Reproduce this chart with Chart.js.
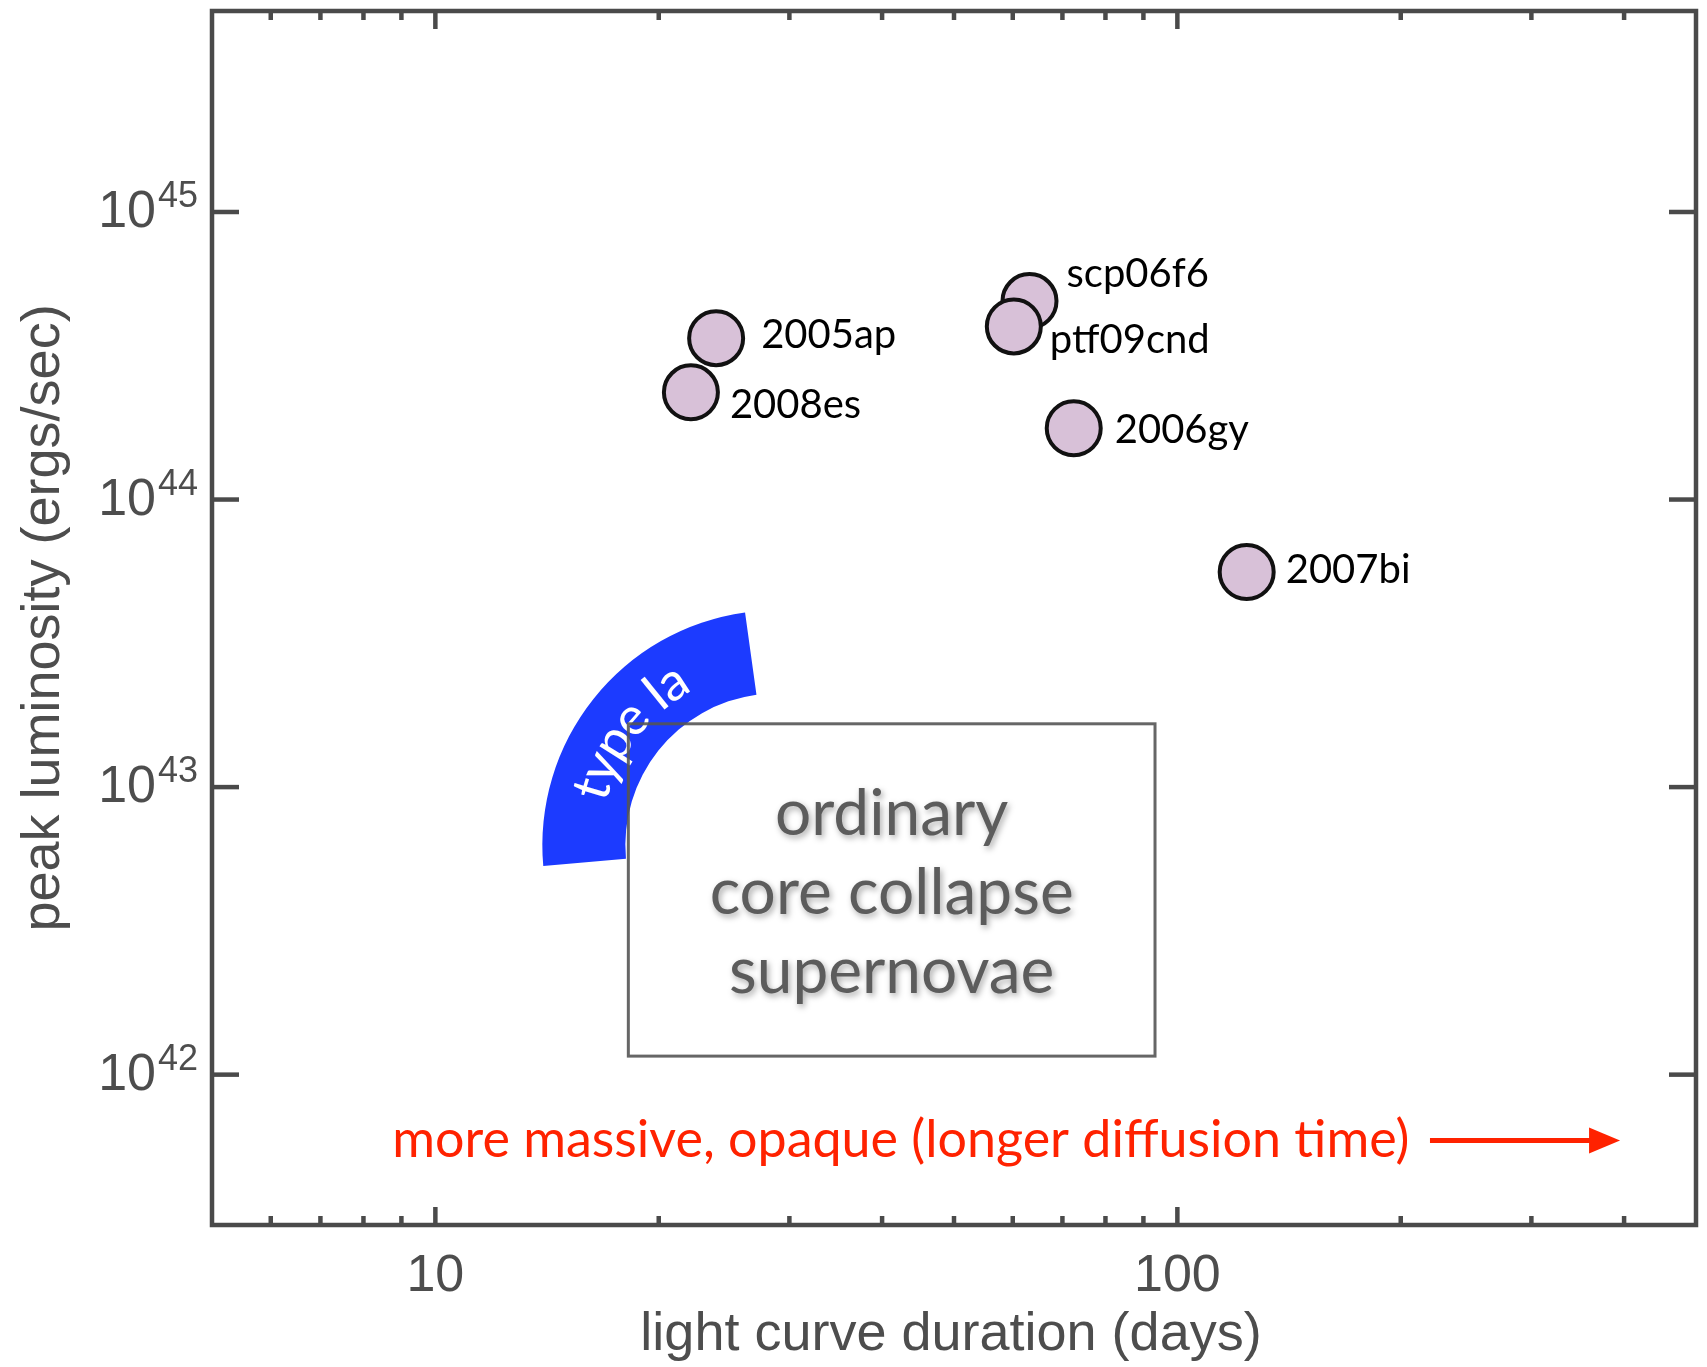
<!DOCTYPE html>
<html><head><meta charset="utf-8">
<script src="https://cdn.jsdelivr.net/npm/chart.js@4.4.1/dist/chart.umd.min.js"></script>
<style>html,body{margin:0;padding:0;background:#fff;} #wrap{width:1707px;height:1367px;}</style>
</head><body><div id="wrap"><canvas id="c" width="1707" height="1367"></canvas></div>
<script>
// ---- data ----
const supernovaNames = ['2005ap', '2008es', 'scp06f6', 'ptf09cnd', '2006gy', '2007bi'];
const durationDays   = [23.9, 22.1, 63.2, 60.2, 72.5, 124];
const peakLuminosity = [3.64e44, 2.36e44, 4.9e44, 4.0e44, 1.77e44, 5.6e43];

const xRange = [5, 500];
const yRange = [3e41, 5e45];
const xMajorTicks = [10, 100];
const xTickLabels = ['10', '100'];
const xMinorTicks = [6, 7, 8, 9, 20, 30, 40, 50, 60, 70, 80, 90, 200, 300, 400];
const yMajorTicks = [1e42, 1e43, 1e44, 1e45];
const yTickExponents = ['42', '43', '44', '45'];

const xTitle = 'light curve duration (days)';
const yTitle = 'peak luminosity (ergs/sec)';

// annotation regions (data units)
const ordinaryDays = [18.2, 93.3];
const ordinaryLum = [1.16e42, 1.66e43];
const ordinaryLines = ['ordinary', 'core collapse', 'supernovae'];
const typeIaCenter = [28.9, 6.28e42];
const typeIaText = 'type Ia';
const trendText = 'more massive, opaque (longer diffusion time)';
const trendTextDay = 8.75;
const trendLum = 5.9e41;
const trendArrowDays = [219, 395];

// label offsets (px, style)
const labelDx = [45, 39, 37, 36, 41, 39];
const labelDy = [-3, 13, -27, 14, 2, -2];

const AXIS = '#4a4a4a';
const AXFONT = '"Liberation Sans", Arial, Helvetica, sans-serif';
const ANNFONT = 'Lato, "Noto Sans", sans-serif';

const deco = {
  id: 'deco',
  beforeDatasetsDraw(chart) {
    const {ctx, scales: {x, y}} = chart;
    ctx.save();
    // type Ia band
    const cx = x.getPixelForValue(typeIaCenter[0]), cy = y.getPixelForValue(typeIaCenter[1]);
    const rO = 235, rI = 152;
    const a0 = 174.9 * Math.PI / 180, a1 = 262.1 * Math.PI / 180;
    ctx.fillStyle = '#1c3bff';
    ctx.beginPath();
    ctx.arc(cx, cy, rO, a0, a1, false);
    ctx.arc(cx, cy, rI, a1, a0, true);
    ctx.closePath();
    ctx.fill();
    ctx.font = '53px ' + ANNFONT;
    ctx.fillStyle = '#ffffff';
    ctx.textAlign = 'center';
    ctx.textBaseline = 'middle';
    const r = (rO + rI) / 2;
    const total = ctx.measureText(typeIaText).width;
    let ang = 217.5 * Math.PI / 180 - total / 2 / r;
    for (const ch of typeIaText) {
      const w = ctx.measureText(ch).width;
      const a = ang + w / 2 / r;
      ctx.save();
      ctx.translate(cx + r * Math.cos(a), cy + r * Math.sin(a));
      ctx.rotate(a + Math.PI / 2);
      ctx.fillText(ch, 0, 0);
      ctx.restore();
      ang += w / r;
    }
    // ordinary box
    const bx0 = x.getPixelForValue(ordinaryDays[0]), bx1 = x.getPixelForValue(ordinaryDays[1]);
    const by0 = y.getPixelForValue(ordinaryLum[1]), by1 = y.getPixelForValue(ordinaryLum[0]);
    ctx.strokeStyle = 'rgba(85,85,85,0.9)';
    ctx.lineWidth = 3;
    ctx.strokeRect(bx0, by0, bx1 - bx0, by1 - by0);
    ctx.save();
    ctx.font = '64px ' + ANNFONT;
    ctx.fillStyle = '#5c5c5c';
    ctx.shadowColor = 'rgba(0,0,0,0.35)';
    ctx.shadowBlur = 6;
    ctx.shadowOffsetX = 2;
    ctx.shadowOffsetY = 3;
    const bcx = (bx0 + bx1) / 2, bcy = (by0 + by1) / 2 + 3;
    ordinaryLines.forEach((t, i) => ctx.fillText(t, bcx, bcy + (i - 1) * 79));
    ctx.restore();
    // trend text + arrow
    ctx.fillStyle = '#ff2200';
    ctx.strokeStyle = '#ff2200';
    ctx.font = '52px ' + ANNFONT;
    ctx.textAlign = 'left';
    const ty = y.getPixelForValue(trendLum);
    ctx.fillText(trendText, x.getPixelForValue(trendTextDay), ty);
    const ax0 = x.getPixelForValue(trendArrowDays[0]), ax1 = x.getPixelForValue(trendArrowDays[1]);
    ctx.lineWidth = 5;
    ctx.beginPath(); ctx.moveTo(ax0, ty); ctx.lineTo(ax1 - 20, ty); ctx.stroke();
    ctx.beginPath(); ctx.moveTo(ax1, ty); ctx.lineTo(ax1 - 31, ty - 13); ctx.lineTo(ax1 - 31, ty + 13); ctx.closePath(); ctx.fill();
    ctx.restore();
  },
  afterDatasetsDraw(chart) {
    const {ctx} = chart;
    const pts = chart.getDatasetMeta(0).data;
    ctx.save();
    ctx.font = '40px ' + ANNFONT;
    ctx.fillStyle = '#000';
    ctx.textAlign = 'left';
    ctx.textBaseline = 'middle';
    supernovaNames.forEach((n, i) => ctx.fillText(n, pts[i].x + labelDx[i], pts[i].y + labelDy[i]));
    ctx.restore();
  },
  afterDraw(chart) {
    const {ctx, chartArea: ca, scales: {x, y}} = chart;
    ctx.save();
    ctx.strokeStyle = AXIS;
    ctx.lineWidth = 4.5;
    ctx.lineCap = 'butt';
    ctx.strokeRect(ca.left, ca.top, ca.right - ca.left, ca.bottom - ca.top);
    const tick = (x0, y0, x1, y1) => { ctx.beginPath(); ctx.moveTo(x0, y0); ctx.lineTo(x1, y1); ctx.stroke(); };
    xMinorTicks.forEach(v => { const px = x.getPixelForValue(v); tick(px, ca.bottom, px, ca.bottom - 9); tick(px, ca.top, px, ca.top + 9); });
    xMajorTicks.forEach(v => { const px = x.getPixelForValue(v); tick(px, ca.bottom, px, ca.bottom - 18); tick(px, ca.top, px, ca.top + 18); });
    yMajorTicks.forEach(v => { const py = y.getPixelForValue(v); tick(ca.left, py, ca.left + 27, py); tick(ca.right, py, ca.right - 27, py); });
    // tick labels
    ctx.fillStyle = '#4d4d4d';
    ctx.textBaseline = 'middle';
    ctx.textAlign = 'center';
    ctx.font = '52px ' + AXFONT;
    xMajorTicks.forEach((v, i) => ctx.fillText(xTickLabels[i], x.getPixelForValue(v), ca.bottom + 52));
    yMajorTicks.forEach((v, i) => {
      const py = y.getPixelForValue(v);
      ctx.font = '52px ' + AXFONT;
      ctx.textAlign = 'right';
      ctx.textBaseline = 'middle';
      ctx.fillText('10', 156, py + 1);
      ctx.font = '36px ' + AXFONT;
      ctx.textAlign = 'left';
      ctx.textBaseline = 'alphabetic';
      ctx.fillText(yTickExponents[i], 158, py - 5);
    });
    // titles
    ctx.font = '54px ' + AXFONT;
    ctx.textAlign = 'center';
    ctx.textBaseline = 'middle';
    ctx.fillText(xTitle, (ca.left + ca.right) / 2 - 3, 1335);
    ctx.save();
    ctx.translate(44, (ca.top + ca.bottom) / 2);
    ctx.rotate(-Math.PI / 2);
    ctx.fillText(yTitle, 0, 0);
    ctx.restore();
    ctx.restore();
  }
};

new Chart(document.getElementById('c'), {
  type: 'scatter',
  data: {
    datasets: [{
      data: durationDays.map((d, i) => ({x: d, y: peakLuminosity[i]})),
      pointRadius: 27,
      pointHoverRadius: 27,
      backgroundColor: '#d8c1d8',
      borderColor: '#111111',
      borderWidth: 4
    }]
  },
  options: {
    responsive: false,
    animation: false,
    events: [],
    layout: {autoPadding: false, padding: {top: 11, right: 11, left: 0, bottom: 0}},
    plugins: {legend: {display: false}, tooltip: {enabled: false}},
    scales: {
      x: {
        type: 'logarithmic', min: xRange[0], max: xRange[1],
        ticks: {display: false}, grid: {display: false}, border: {display: false},
        afterFit: s => { s.height = 142; }
      },
      y: {
        type: 'logarithmic', min: yRange[0], max: yRange[1],
        ticks: {display: false}, grid: {display: false}, border: {display: false},
        afterFit: s => { s.width = 212; }
      }
    }
  },
  plugins: [deco]
});
</script>
</body></html>
